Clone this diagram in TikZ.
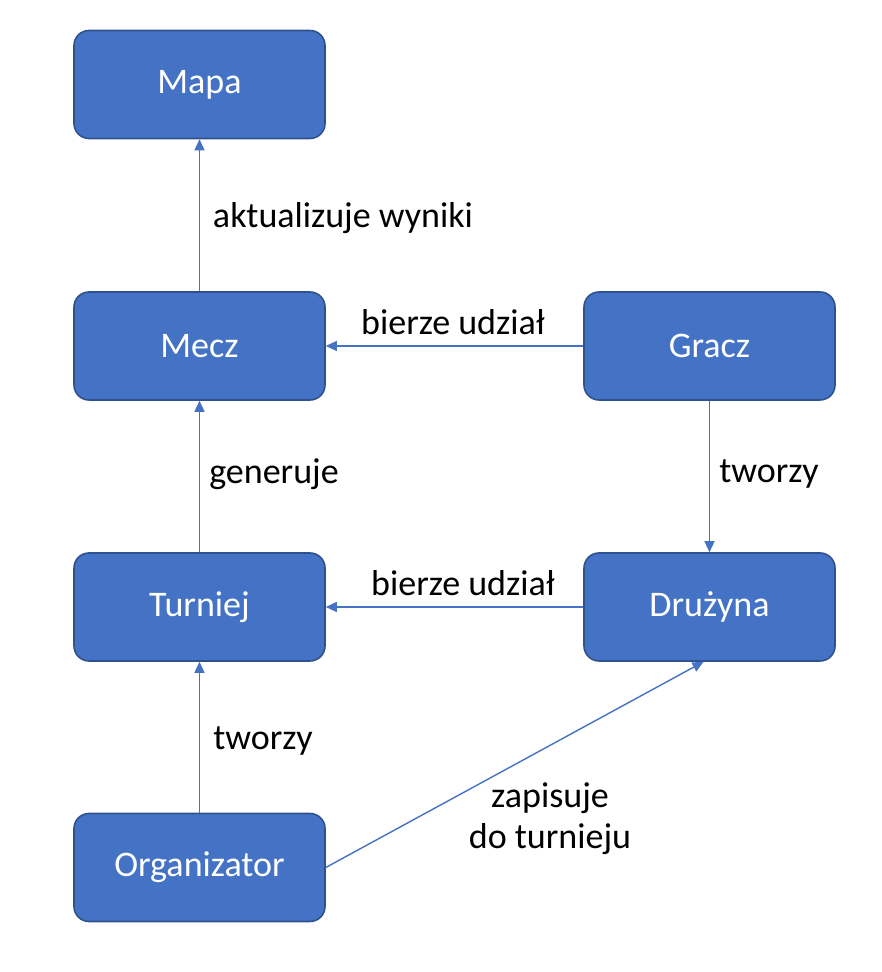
\documentclass[tikz,border=0pt]{standalone}
\usepackage{fontspec}
\setmainfont{Carlito}
\usetikzlibrary{arrows.meta}
\definecolor{boxfill}{HTML}{4472C4}
\definecolor{boxline}{HTML}{2F528F}
\tikzset{
    klasa/.style={draw=boxline, line width=0.9pt, fill=boxfill, rounded corners=0.3cm,
        minimum width=5.02cm, minimum height=2.16cm, text=white, font=\fontsize{20.5}{24}\selectfont},
    relacja/.style={draw=boxfill, line width=0.8pt, -{Triangle[length=0.22cm, width=0.2cm]}},
    opis/.style={font=\fontsize{20.5}{23.3}\selectfont, align=center}
}
\begin{document}
\begin{tikzpicture}
    \useasboundingbox (0,0) rectangle (17.62,19.44);

    % Klasy
    \node[klasa] (mapa) at (3.99,17.75) {Mapa};
    \node[klasa] (mecz) at (3.99,12.52) {Mecz};
    \node[klasa] (gracz) at (14.19,12.52) {Gracz};
    \node[klasa] (turniej) at (3.99,7.30) {Turniej};
    \node[klasa] (druzyna) at (14.19,7.30) {Drużyna};
    \node[klasa] (organizator) at (3.99,2.09) {Organizator};

    % Relacje
    \draw[relacja] (mecz) -- (mapa);
    \draw[relacja] (gracz) -- (mecz);
    \draw[relacja] (turniej) -- (mecz);
    \draw[relacja] (gracz) -- (druzyna);
    \draw[relacja] (druzyna) -- (turniej);
    \draw[relacja] (organizator) -- (turniej);
    \draw[relacja] (organizator.east) -- ([xshift=-0.12cm]druzyna.south);

    % Etykiety
    \node[opis] (l1) at (6.86,15.08) {aktualizuje wyniki};
    \node[opis] (l2) at (9.06,13.00) {bierze udział};
    \node[opis] (l3) at (5.48,9.96) {generuje};
    \node[opis] (l4) at (15.38,9.96) {tworzy};
    \node[opis] (l5) at (9.26,7.78) {bierze udział};
    \node[opis] (l6) at (5.26,4.62) {tworzy};
    \node[opis] (l7) at (11.00,3.06) {zapisuje\\do turnieju};
\end{tikzpicture}
\end{document}
